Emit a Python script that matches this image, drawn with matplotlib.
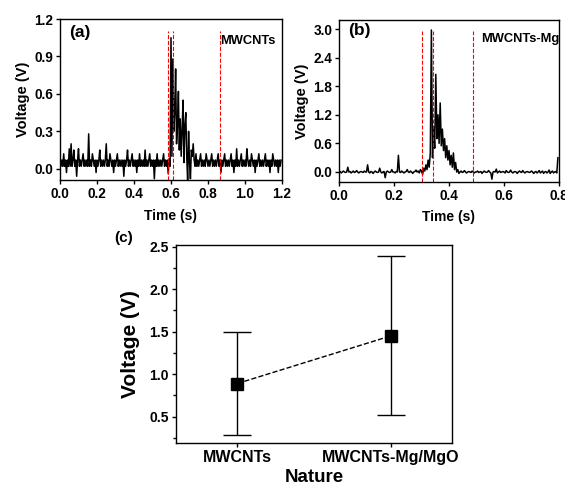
import numpy as np
import matplotlib.pyplot as plt

plt.rcParams['font.family'] = ['Liberation Sans', 'DejaVu Sans']
plt.rcParams['font.weight'] = 'bold'

# (a) MWCNTs voltage trace, step 0.005 s
t_a = np.arange(240) * 0.005
v_a = [
    0.07, 0.02, 0.07, 0.02, 0.12, 0.02, 0.07, -0.03, 0.07, 0.02, 0.16, 0.02, 0.20, 0.02, 0.07, 0.15, 0.02, 0.07, -0.06, 0.07,
    0.16, 0.02, 0.07, 0.02, 0.07, 0.12, 0.02, 0.07, 0.02, 0.07, 0.02, 0.28, 0.02, 0.07, 0.02, 0.12, 0.07, 0.02, 0.07, -0.03,
    0.07, 0.02, 0.07, 0.15, 0.02, 0.07, 0.02, 0.07, 0.02, 0.07, 0.20, 0.02, 0.07, 0.02, 0.12, 0.07, 0.02, 0.07, -0.03, 0.07,
    0.02, 0.07, 0.12, 0.02, 0.07, 0.02, 0.07, 0.02, 0.07, -0.06, 0.07, 0.02, 0.07, 0.15, 0.02, 0.07, 0.02, 0.07, 0.12, 0.02,
    0.07, 0.02, 0.07, -0.03, 0.07, 0.02, 0.12, 0.02, 0.07, 0.02, 0.07, 0.02, 0.15, 0.02, 0.07, 0.02, 0.07, 0.12, 0.02, 0.07,
    0.02, 0.07, -0.08, 0.07, 0.02, 0.12, 0.02, 0.07, 0.02, 0.07, 0.02, 0.07, 0.12, 0.02, 0.07, 0.02, 0.07, -0.04, 0.08, 0.02,
    1.05, 0.10, 0.88, 0.30, 0.45, 0.80, 0.20, 0.35, 0.62, 0.15, 0.40, 0.10, 0.30, 0.55, 0.05, 0.35, 0.45, 0.10, -0.10, 0.30,
    0.05, -0.08, 0.15, 0.10, 0.20, 0.07, 0.02, 0.12, 0.02, 0.07, 0.02, 0.07, 0.12, 0.02, 0.07, 0.02, 0.07, 0.02, 0.12, 0.07,
    0.02, 0.07, 0.02, 0.07, 0.12, 0.02, 0.07, 0.02, 0.07, 0.02, 0.07, 0.12, 0.02, 0.07, -0.03, 0.07, 0.02, 0.07, 0.12, 0.02,
    0.07, 0.02, 0.07, 0.02, 0.07, 0.12, 0.02, 0.07, -0.03, 0.07, 0.02, 0.16, 0.02, 0.07, 0.02, 0.07, 0.12, 0.02, 0.07, 0.02,
    0.07, 0.02, 0.16, 0.07, 0.02, 0.07, 0.02, 0.12, 0.07, 0.02, 0.07, -0.03, 0.07, 0.02, 0.07, 0.12, 0.02, 0.07, 0.02, 0.07,
    0.02, 0.07, 0.12, 0.02, 0.07, 0.02, 0.07, -0.03, 0.07, 0.02, 0.12, 0.07, 0.02, 0.07, 0.02, 0.07, -0.03, 0.07, 0.02, 0.07,
]
marks_a = [0.585, 0.613, 0.865]

# (b) MWCNTs-Mg voltage trace, step 0.004 s
t_b = np.arange(200) * 0.004
v_b = [
    0.0, 0.01, -0.02, 0.0, 0.02, 0.0, -0.01, 0.0, 0.10, 0.0, 0.01, -0.02, 0.0, 0.02, -0.01, 0.0, 0.03, 0.0, -0.02, 0.0, 0.01, 0.0, -0.01, 0.02, 0.0,
    0.0, 0.15, 0.0, -0.02, 0.01, 0.0, -0.03, 0.0, 0.02, 0.0, -0.01, 0.0, 0.08, 0.0, -0.02, 0.0, 0.01, -0.12, 0.0, 0.02, 0.0, -0.01, 0.0, 0.05, 0.0,
    0.0, -0.02, 0.01, 0.0, 0.35, 0.0, -0.01, 0.02, 0.0, -0.02, 0.0, 0.01, 0.05, 0.0, -0.01, 0.02, 0.0, -0.03, 0.0, 0.01, 0.04, 0.0, 0.02, -0.02, 0.05,
    0.02, -0.05, 0.08, 0.02, 0.15, 0.05, 0.25, 0.10, 0.40, 2.98, 0.30, 0.95, 0.50, 2.05, 0.70, 1.20, 0.60, 1.45, 0.55, 0.90, 0.45, 0.70, 0.30, 0.55, 0.25,
    0.45, 0.15, 0.35, 0.10, 0.40, 0.05, 0.20, 0.0, 0.05, -0.03, 0.0, 0.02, -0.01, 0.0, 0.03, 0.0, -0.02, 0.0, 0.01, 0.0, -0.01, 0.02, 0.0, -0.02, 0.0,
    0.0, 0.02, -0.01, 0.0, 0.01, -0.03, 0.0, 0.02, 0.0, -0.01, 0.0, 0.03, 0.0, -0.02, -0.15, 0.0, 0.01, 0.0, 0.06, -0.02, 0.0, 0.02, -0.01, 0.0, 0.01,
    0.0, -0.02, 0.03, 0.0, -0.01, 0.0, 0.04, 0.0, -0.02, 0.0, 0.01, 0.0, -0.03, 0.0, 0.02, 0.0, -0.01, 0.03, 0.0, -0.02, 0.0, 0.01, 0.0, -0.01, 0.0,
    0.02, 0.0, -0.03, 0.0, 0.01, -0.02, 0.0, 0.03, -0.02, 0.0, 0.02, -0.03, 0.0, 0.01, -0.02, 0.0, 0.04, -0.03, 0.0, 0.02, -0.02, 0.0, 0.01, -0.02, 0.30,
]
marks_b = [0.303, 0.342, 0.487]

# (c) mean voltage with min/max
natures = ['MWCNTs', 'MWCNTs-Mg/MgO']
v_mean = [0.89, 1.45]
v_low = [0.29, 0.52]
v_high = [1.50, 2.39]

fig = plt.figure(figsize=(5.65, 4.91), dpi=100)
W, H = 565, 491


def px_axes(l, t, r, b):
    return fig.add_axes([l / W, 1 - b / H, (r - l) / W, (b - t) / H])


def style(ax, fs):
    for s in ax.spines.values():
        s.set_linewidth(1.0)
    ax.tick_params(labelsize=fs, width=1.0, length=3, direction='out', pad=2)
    for lab in ax.get_xticklabels() + ax.get_yticklabels():
        lab.set_fontweight('bold')


# panel (a)
ax1 = px_axes(60, 19, 282, 180)
ax1.plot(t_a, v_a, color='black', lw=1.1)
ax1.vlines(marks_a, -0.09, 1.1, colors='red', linestyles='--', lw=0.8)
ax1.set_xlim(0, 1.2)
ax1.set_ylim(-0.09, 1.2)
ax1.set_xticks(np.arange(0, 1.21, 0.2))
ax1.set_yticks(np.arange(0, 1.21, 0.3))
ax1.set_xlabel('Time (s)', fontsize=10, fontweight='bold', labelpad=6)
ax1.set_ylabel('Voltage (V)', fontsize=10.5, fontweight='bold', labelpad=3)
ax1.text(0.04, 0.96, '(a)', transform=ax1.transAxes, fontsize=12.5, fontweight='bold', va='top')
ax1.text(0.97, 0.9, 'MWCNTs', transform=ax1.transAxes, fontsize=9.3, fontweight='bold', ha='right', va='top')
style(ax1, 9.8)

# panel (b)
ax2 = px_axes(339, 20, 559, 182)
ax2.plot(t_b, v_b, color='black', lw=1.1)
ax2.vlines(marks_b, -0.21, 2.95, colors='red', linestyles='--', lw=0.8)
ax2.set_xlim(0, 0.8)
ax2.set_ylim(-0.21, 3.19)
ax2.set_xticks(np.arange(0, 0.81, 0.2))
ax2.set_yticks(np.arange(0, 3.01, 0.6))
ax2.set_xlabel('Time (s)', fontsize=10, fontweight='bold', labelpad=5)
ax2.set_ylabel('Voltage (V)', fontsize=10.5, fontweight='bold', labelpad=3)
ax2.text(0.04, 0.98, '(b)', transform=ax2.transAxes, fontsize=12.5, fontweight='bold', va='top')
ax2.text(1.0, 0.92, 'MWCNTs-Mg', transform=ax2.transAxes, fontsize=9.3, fontweight='bold', ha='right', va='top')
style(ax2, 9.8)

# panel (c)
ax3 = px_axes(176, 245, 452, 443)
xpos = np.arange(1, len(natures) + 1)
yerr = [np.array(v_mean) - np.array(v_low), np.array(v_high) - np.array(v_mean)]
ax3.errorbar(xpos, v_mean, yerr=yerr, fmt='none', ecolor='black', elinewidth=1.0, capsize=10, capthick=1.0)
ax3.plot(xpos, v_mean, color='black', ls='--', lw=1.0, marker='s', ms=9)
ax3.set_xlim(0.6, 2.4)
ax3.set_ylim(0.19, 2.52)
ax3.set_xticks(xpos)
ax3.set_xticklabels(natures)
ax3.set_yticks([0.5, 1.0, 1.5, 2.0, 2.5])
ax3.set_yticks(np.arange(0.25, 2.51, 0.25), minor=True)
ax3.tick_params(axis='y', which='minor', length=2, width=1.0)
ax3.set_xlabel('Nature', fontsize=13.5, fontweight='bold', labelpad=3)
ax3.set_ylabel('Voltage (V)', fontsize=15, fontweight='bold', labelpad=7)
fig.text(114 / W, 1 - 238 / H, '(c)', fontsize=11, fontweight='bold', va='center')
style(ax3, 10)
ax3.tick_params(axis='x', labelsize=11.5)

fig.savefig('out.png', dpi=100)
